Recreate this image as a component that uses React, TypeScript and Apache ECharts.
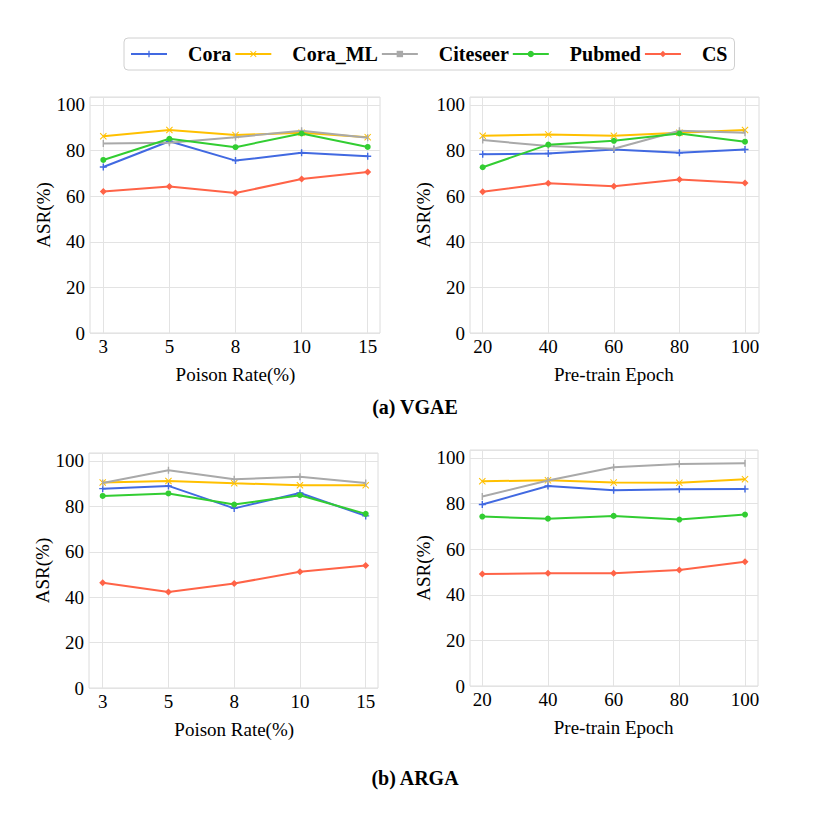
import React, { useEffect, useRef } from 'react';
import * as echarts from 'echarts';

const seriesNames = ['Cora', 'Cora_ML', 'Citeseer', 'Pubmed', 'CS'];
const seriesColors = ['#4169E1', '#FFC000', '#A9A9A9', '#32CD32', '#FF6347'];

const poisonRates = ['3', '5', '8', '10', '15'];
const epochs = ['20', '40', '60', '80', '100'];

// (a) VGAE – Poison Rate
const vgaePoisonCora = [72.8, 84.1, 75.6, 79.0, 77.5];
const vgaePoisonCoraML = [86.3, 89.0, 86.8, 87.8, 85.9];
const vgaePoisonCiteseer = [83.1, 83.4, 85.9, 88.7, 85.6];
const vgaePoisonPubmed = [75.9, 85.2, 81.5, 87.5, 81.6];
const vgaePoisonCS = [62.1, 64.2, 61.4, 67.5, 70.6];

// (a) VGAE – Pre-train Epoch
const vgaeEpochCora = [78.4, 78.7, 80.5, 79.0, 80.5];
const vgaeEpochCoraML = [86.5, 87.1, 86.5, 87.8, 89.0];
const vgaeEpochCiteseer = [84.6, 82.0, 80.8, 88.7, 87.8];
const vgaeEpochPubmed = [72.7, 82.6, 84.3, 87.5, 83.9];
const vgaeEpochCS = [61.9, 65.7, 64.4, 67.3, 65.8];

// (b) ARGA – Poison Rate
const argaPoisonCora = [87.8, 89.0, 79.1, 85.9, 75.8];
const argaPoisonCoraML = [90.5, 91.2, 90.2, 89.3, 89.3];
const argaPoisonCiteseer = [90.3, 95.9, 91.9, 93.0, 90.3];
const argaPoisonPubmed = [84.6, 85.7, 80.8, 84.9, 76.7];
const argaPoisonCS = [46.4, 42.3, 46.0, 51.2, 53.9];

// (b) ARGA – Pre-train Epoch
const argaEpochCora = [79.6, 87.7, 85.8, 86.3, 86.4];
const argaEpochCoraML = [89.8, 90.2, 89.2, 89.1, 90.7];
const argaEpochCiteseer = [83.1, 90.1, 95.9, 97.4, 97.7];
const argaEpochPubmed = [74.3, 73.4, 74.6, 73.0, 75.2];
const argaEpochCS = [49.1, 49.5, 49.5, 50.9, 54.5];

const yTicks = [0, 20, 40, 60, 80, 100];

const FONT = '"Liberation Serif", "Times New Roman", serif';
const AX_FS = 19;

const SYM_PLUS = 'path://M4,0 H6 V4 H10 V6 H6 V10 H4 V6 H0 V4 H4 Z';
const SYM_X = 'path://M1,0 L5,4 L9,0 L10,1 L6,5 L10,9 L9,10 L5,6 L1,10 L0,9 L4,5 L0,1 Z';
const SYM_VBAR = 'path://M4,0 H6 V10 H4 Z';
const seriesSymbols = [SYM_PLUS, SYM_X, SYM_VBAR, 'circle', 'diamond'];
const seriesSymbolSizes = [7, 7, 7, 6, 7];

const panels = [
  { cats: poisonRates, xName: 'Poison Rate(%)', data: [vgaePoisonCora, vgaePoisonCoraML, vgaePoisonCiteseer, vgaePoisonPubmed, vgaePoisonCS] },
  { cats: epochs, xName: 'Pre-train Epoch', data: [vgaeEpochCora, vgaeEpochCoraML, vgaeEpochCiteseer, vgaeEpochPubmed, vgaeEpochCS] },
  { cats: poisonRates, xName: 'Poison Rate(%)', data: [argaPoisonCora, argaPoisonCoraML, argaPoisonCiteseer, argaPoisonPubmed, argaPoisonCS] },
  { cats: epochs, xName: 'Pre-train Epoch', data: [argaEpochCora, argaEpochCoraML, argaEpochCiteseer, argaEpochPubmed, argaEpochCS] },
];

// outer framed boxes
const boxes = [
  { left: 90, top: 97, width: 290, height: 236 },
  { left: 470, top: 97, width: 289, height: 236 },
  { left: 89, top: 453, width: 289, height: 235 },
  { left: 470, top: 450, width: 288, height: 236 },
];
// inner data areas (first to last category)
const dataAreas = [
  { left: 103.3, width: 264.4 },
  { left: 482.7, width: 262.3 },
  { left: 102.7, width: 263 },
  { left: 482.3, width: 262.7 },
];

const GRID_COLOR = '#e3e3e3';
const Y_MAX = 103.5;

function buildOption() {
  const grid: any[] = [];
  boxes.forEach((b) => {
    grid.push({ ...b, show: true, borderColor: '#dcdcdc', borderWidth: 1, backgroundColor: 'transparent' });
  });
  boxes.forEach((b, i) => {
    grid.push({ left: dataAreas[i].left, width: dataAreas[i].width, top: b.top, height: b.height, show: false });
  });

  const xAxis: any[] = [];
  const yAxis: any[] = [];

  boxes.forEach((_, i) => {
    xAxis.push({ type: 'value', gridIndex: i, min: 0, max: 1, show: false });
    yAxis.push({
      type: 'value',
      gridIndex: i,
      min: 0,
      max: Y_MAX,
      interval: 20,
      name: 'ASR(%)',
      nameLocation: 'middle',
      nameGap: 37,
      nameTextStyle: { fontSize: AX_FS, color: '#000', fontFamily: FONT },
      axisLine: { show: false },
      axisTick: { show: false },
      splitLine: { show: true, lineStyle: { color: GRID_COLOR, width: 1 } },
      axisLabel: {
        fontSize: AX_FS,
        color: '#000',
        fontFamily: FONT,
        margin: 5,
        formatter: (v: number) => {
          const r = Math.round(v);
          return Math.abs(v - r) < 1e-6 && yTicks.indexOf(r) >= 0 ? String(r) : '';
        },
      },
    });
  });

  panels.forEach((p, i) => {
    xAxis.push({
      type: 'value',
      gridIndex: 4 + i,
      min: 0,
      max: p.cats.length - 1,
      interval: 1,
      name: p.xName,
      nameLocation: 'middle',
      nameGap: 32,
      nameTextStyle: { fontSize: AX_FS, color: '#000', fontFamily: FONT },
      axisLine: { show: false },
      axisTick: { show: false },
      splitLine: { show: true, lineStyle: { color: GRID_COLOR, width: 1 } },
      axisLabel: {
        fontSize: AX_FS,
        color: '#000',
        fontFamily: FONT,
        margin: 4,
        formatter: (v: number) => {
          const r = Math.round(v);
          return Math.abs(v - r) < 1e-6 && r >= 0 && r < p.cats.length ? p.cats[r] : '';
        },
      },
    });
    yAxis.push({ type: 'value', gridIndex: 4 + i, min: 0, max: Y_MAX, show: false, splitLine: { show: false } });
  });

  const series: any[] = [];
  panels.forEach((p, pi) => {
    p.data.forEach((vals, si) => {
      series.push({
        type: 'line',
        name: seriesNames[si],
        xAxisIndex: 4 + pi,
        yAxisIndex: 4 + pi,
        data: vals.map((v, k) => [k, v]),
        symbol: seriesSymbols[si],
        symbolSize: seriesSymbolSizes[si],
        symbolKeepAspect: true,
        showSymbol: true,
        lineStyle: { color: seriesColors[si], width: 2 },
        itemStyle: { color: seriesColors[si] },
        z: 2 + si,
      });
    });
  });

  return {
    animation: false,
    backgroundColor: '#ffffff',
    legend: {
      data: seriesNames,
      left: 124,
      top: 38,
      orient: 'horizontal',
      itemWidth: 36,
      itemHeight: 8,
      itemGap: 3,
      padding: [6, 7, 6, 6],
      borderColor: '#d0d0d0',
      borderWidth: 1,
      borderRadius: 4,
      textStyle: {
        fontSize: 20,
        fontWeight: 'bold',
        color: '#000',
        fontFamily: FONT,
        padding: [0, 0, 0, 16],
      },
    },
    grid,
    xAxis,
    yAxis,
    series,
    graphic: [
      {
        type: 'text',
        x: 415,
        y: 407,
        style: {
          text: '(a) VGAE',
          fontSize: 20,
          fontWeight: 'bold',
          fontFamily: FONT,
          fill: '#000',
          textAlign: 'center',
          textVerticalAlign: 'middle',
        },
      },
      {
        type: 'text',
        x: 415,
        y: 778,
        style: {
          text: '(b) ARGA',
          fontSize: 20,
          fontWeight: 'bold',
          fontFamily: FONT,
          fill: '#000',
          textAlign: 'center',
          textVerticalAlign: 'middle',
        },
      },
    ],
  };
}

export default function App() {
  const ref = useRef<HTMLDivElement>(null);
  useEffect(() => {
    if (!ref.current) return;
    const chart = echarts.init(ref.current, null, { renderer: 'svg' });
    chart.setOption(buildOption() as any);
    return () => {
      chart.dispose();
    };
  }, []);
  return (
    <div
      ref={ref}
      style={{ position: 'absolute', left: 0, top: 0, width: 830, height: 821, background: '#fff' }}
    />
  );
}
